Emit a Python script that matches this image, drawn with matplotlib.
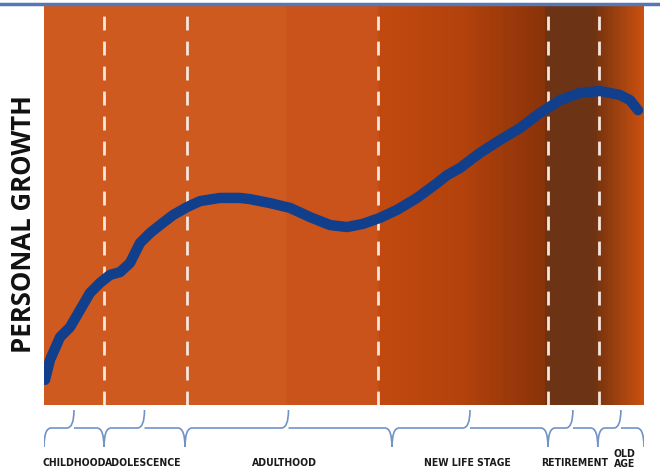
import numpy as np
import matplotlib
matplotlib.use("Agg")
import matplotlib.pyplot as plt
from matplotlib.colors import LinearSegmentedColormap
from matplotlib.path import Path
from matplotlib.patches import PathPatch
from matplotlib.lines import Line2D

# life course, x in 0..100, growth in 0..100
age = [0.17, 1.0, 2.67, 4.33, 6.0, 7.67, 9.33, 11.0, 12.67, 14.33, 16.0, 17.67, 19.33, 21.5,
       23.83, 26.0, 29.33, 32.67, 34.33, 37.67, 41.0, 44.33, 47.67, 50.5, 53.17, 56.0, 58.83,
       62.17, 65.5, 67.17, 69.33, 72.67, 76.0, 79.33, 82.67, 86.0, 89.33, 92.67, 96.0, 97.67, 99.0]
growth = [6.3, 11.3, 17.0, 19.5, 23.8, 28.1, 30.6, 32.6, 33.3, 35.6, 40.6, 43.1, 45.1, 47.6,
          49.6, 51.1, 51.9, 51.9, 51.6, 50.6, 49.4, 47.1, 45.1, 44.6, 45.4, 46.9, 48.9,
          51.9, 55.6, 57.6, 59.4, 63.2, 66.4, 69.4, 73.2, 76.4, 78.2, 78.7, 77.7, 76.4, 73.9]

boundaries = [10, 23.8, 55.7, 84, 92.5]
stages = ["CHILDHOOD", "ADOLESCENCE", "ADULTHOOD", "NEW LIFE STAGE", "RETIREMENT", "OLD\nAGE"]
brace_spans = [(0, 10), (10, 23.5), (23.5, 58), (58, 84), (84, 92.3), (92.3, 100)]
label_x = [5.0, 16.5, 40, 70.5, 88.5, 96.8]

fig = plt.figure(figsize=(6.6, 4.75), dpi=100)
ax = fig.add_axes([44/660, 1 - 405/475, 600/660, 399/475])

# background gradient along x
stops = [(0.0, "#cf5a1f"), (0.40, "#cf5a1f"), (0.405, "#c9541a"), (0.555, "#c9531a"),
         (0.56, "#c24a10"), (0.70, "#b3420c"), (0.835, "#8a3309"), (0.84, "#6c3414"),
         (0.92, "#6c3414"), (0.925, "#7a3510"), (1.0, "#c9500f")]
cmap = LinearSegmentedColormap.from_list("bg", stops)
grad = np.linspace(0, 1, 600).reshape(1, -1)
ax.imshow(grad, cmap=cmap, aspect="auto", extent=[0, 100, 0, 100], zorder=0)

for b in boundaries:
    ax.axvline(b, color="#f7e6dc", lw=2, ls=(0, (5, 4)), zorder=1)

ax.plot(age, growth, color="#123f8c", lw=7.5, solid_capstyle="round",
        solid_joinstyle="round", zorder=3)
ax.set_xlim(0, 100)
ax.set_ylim(0, 100)
ax.axis("off")

fig.text(24/660, 1 - 224/475, "PERSONAL GROWTH", rotation=90, ha="center", va="center",
         fontsize=18.5, fontweight="bold", family=["Open Sans", "DejaVu Sans"], color="#111111")

# braces below the plot
bax = fig.add_axes([44/660, 0, 600/660, 1 - 405/475])
bax.set_xlim(0, 100)
bax.set_ylim(475, 405)
bax.axis("off")


def brace(a, b, y_tip=410, y_mid=428, y_end=447, r=1.2):
    m = (a + b) / 2
    verts = [(a, y_end), (a, y_mid), (a + r, y_mid),
             (m - r, y_mid), (m, y_mid), (m, y_tip),
             (m, y_mid), (m + r, y_mid),
             (b - r, y_mid), (b, y_mid), (b, y_end)]
    codes = [Path.MOVETO, Path.CURVE3, Path.CURVE3,
             Path.LINETO, Path.CURVE3, Path.CURVE3,
             Path.MOVETO, Path.CURVE3,
             Path.LINETO, Path.CURVE3, Path.CURVE3]
    bax.add_patch(PathPatch(Path(verts, codes), fill=False, ec="#6f93c8", lw=1.2))


for (a, b) in brace_spans:
    brace(a, b)

for lx, s in zip(label_x, stages):
    bax.text(lx, 463 if "\n" not in s else 459, s, ha="center", va="center", fontsize=7.5,
             fontweight="bold", fontstretch="condensed",
             family=["DejaVu Sans"], color="#1a1a1a", linespacing=0.9)

fig.add_artist(Line2D([0, 1], [1 - 4/475, 1 - 4/475], color="#5577b5", lw=2.5))

fig.savefig("out.png", dpi=100)
